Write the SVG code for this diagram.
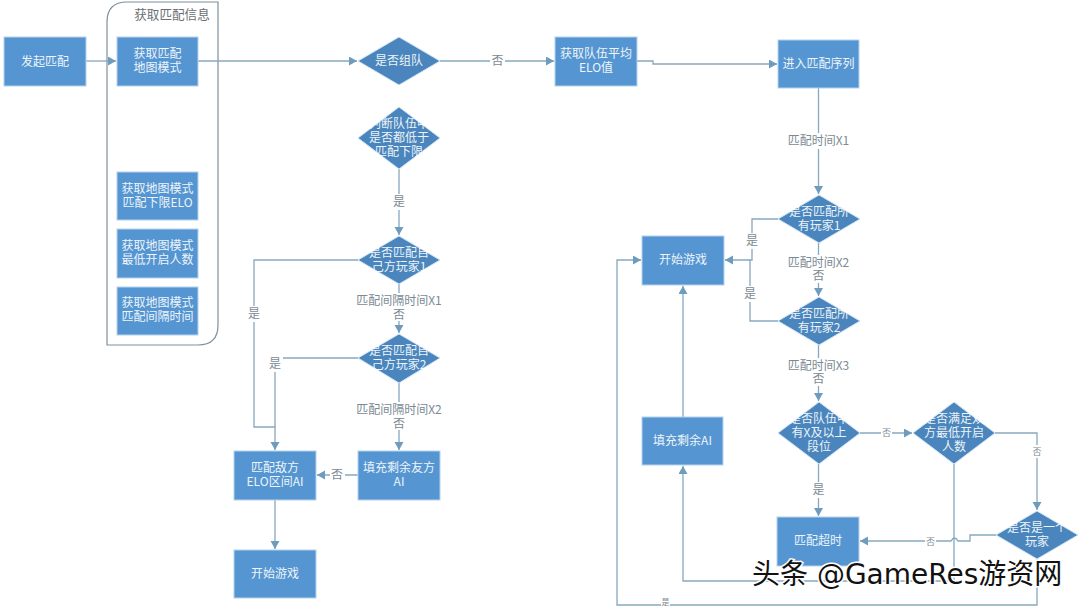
<svg xmlns="http://www.w3.org/2000/svg" width="1080" height="606" viewBox="0 0 1080 606">
<defs>
<marker id="arrow" markerUnits="userSpaceOnUse" markerWidth="10" markerHeight="10" refX="8" refY="4.5" orient="auto"><path d="M0,0 L8,4.500 L0,9 Z" fill="#6f9bbd"/></marker>
</defs>
<style>
text{font-family:"Noto Sans CJK SC","Liberation Sans",sans-serif;font-size:12px;text-anchor:middle}
.box{fill:#5596d2;stroke:#b4d2ec;stroke-width:1}
.dia{fill:#4a86bd;stroke:#cfe3f4;stroke-width:1}
.t{fill:#fff;opacity:.9}
.c{fill:none;stroke:#86a8c0;stroke-width:1.300}
.a{marker-end:url(#arrow)}
.lb{fill:#7b8a94}
.bg{fill:#fff}
.wm{font-family:"DejaVu Sans","Noto Sans CJK SC",sans-serif;font-size:28px;fill:#111;stroke:#fff;stroke-width:3px;paint-order:stroke;text-anchor:start}
</style>
<rect width="1080" height="606" fill="#fff"/>
<g id="group-info">
<path d="M127,2 H218 V325 Q218,345 198,345 H107 V22 Q107,2 127,2 Z" fill="#fff" stroke="#7d8f9c" stroke-width="1.200"/>
<text x="172" y="19" fill="#6b6f73" style="font-size:12.600px">获取匹配信息</text>
</g>
<g id="connectors">
<path class="c a" d="M86,61 H116"/>
<path class="c a" d="M198,61 H357"/>
<path class="c a" d="M440,61 H554"/>
<path class="c a" d="M637,61 H653 V64 H777"/>
<path class="c a" d="M818.500,88 V194"/>
<path class="c a" d="M778,219 H752 V260 H725"/>
<path class="c" d="M778,321 H750 V260"/>
<path class="c a" d="M818.500,243 V296"/>
<path class="c a" d="M818.500,345 V401"/>
<path class="c a" d="M818.500,464 V516"/>
<path class="c a" d="M860,433 H912"/>
<path class="c a" d="M995,433 H1037 V510"/>
<path class="c a" d="M996,535 H970 V541 H958 Q954.500,535 951,541 H860"/>
<path class="c a" d="M954,464 V581 H683 V466"/>
<path class="c a" d="M683,417 V286"/>
<path class="c a" d="M1037,559 V605 H617 V260 H641"/>
<path class="c a" d="M399,169 V235"/>
<path class="c a" d="M399,284 V333"/>
<path class="c a" d="M399,383 V450"/>
<path class="c a" d="M358,260 H254 V427 H275 V450"/>
<path class="c" d="M358,358 H275 V427"/>
<path class="c a" d="M358,475 H317"/>
<path class="c a" d="M275,500 V549"/>
</g>
<g id="labels">
<rect class="bg" x="490" y="53" width="15" height="16"/><text class="lb" x="497.500" y="65">否</text>
<rect class="bg" x="786" y="133" width="65" height="16"/><text class="lb" x="818.500" y="145">匹配时间X1</text>
<rect class="bg" x="745" y="233" width="15" height="16"/><text class="lb" x="752" y="245">是</text>
<rect class="bg" x="743" y="286" width="15" height="16"/><text class="lb" x="750" y="298">是</text>
<rect class="bg" x="786" y="255" width="65" height="28"/><text class="lb" x="818.500" y="267">匹配时间X2<tspan x="818.500" dy="13">否</tspan></text>
<rect class="bg" x="786" y="358" width="65" height="28"/><text class="lb" x="818.500" y="370">匹配时间X3<tspan x="818.500" dy="13">否</tspan></text>
<rect class="bg" x="811" y="482" width="15" height="16"/><text class="lb" x="818.500" y="494">是</text>
<rect class="bg" x="881" y="426" width="11" height="13"/><text class="lb" x="886.500" y="436" style="font-size:9px">否</text>
<rect class="bg" x="1032" y="445" width="11" height="13"/><text class="lb" x="1037" y="455" style="font-size:9px">否</text>
<rect class="bg" x="925" y="535" width="11" height="13"/><text class="lb" x="930.500" y="545" style="font-size:9px">否</text>
<rect class="bg" x="661" y="598" width="9" height="8"/><text class="lb" x="665.500" y="605" style="font-size:8px">是</text>
<rect class="bg" x="392" y="194" width="15" height="16"/><text class="lb" x="399" y="206">是</text>
<rect class="bg" x="247" y="306" width="15" height="16"/><text class="lb" x="254" y="318">是</text>
<rect class="bg" x="268" y="356" width="15" height="16"/><text class="lb" x="275" y="368">是</text>
<rect class="bg" x="357" y="293" width="84" height="28"/><text class="lb" x="399" y="305">匹配间隔时间X1<tspan x="399" dy="14">否</tspan></text>
<rect class="bg" x="357" y="402" width="84" height="28"/><text class="lb" x="399" y="414">匹配间隔时间X2<tspan x="399" dy="14">否</tspan></text>
<rect class="bg" x="330" y="467" width="15" height="16"/><text class="lb" x="337" y="479">否</text>
</g>
<g id="n-start"><rect class="box" x="4" y="37" width="82" height="49"/><text class="t" x="45" y="65.500">发起匹配</text></g>
<g id="n-get-mode"><rect class="box" x="117" y="37" width="81" height="49"/><text class="t" x="157.500" y="58">获取匹配<tspan x="157.500" dy="14">地图模式</tspan></text></g>
<g id="n-elo-low"><rect class="box" x="117" y="172" width="81" height="48"/><text class="t" x="157.500" y="193">获取地图模式<tspan x="157.500" dy="14">匹配下限ELO</tspan></text></g>
<g id="n-min-players"><rect class="box" x="117" y="229" width="81" height="49"/><text class="t" x="157.500" y="250">获取地图模式<tspan x="157.500" dy="14">最低开启人数</tspan></text></g>
<g id="n-interval"><rect class="box" x="117" y="287" width="81" height="48"/><text class="t" x="157.500" y="307">获取地图模式<tspan x="157.500" dy="14">匹配间隔时间</tspan></text></g>
<g id="n-team"><polygon class="dia" points="399,37 440,61 399,85 358,61"/><text class="t" x="399" y="65">是否组队</text></g>
<g id="n-below"><polygon class="dia" points="399,107 440,138 399,169 358,138"/><text class="t" x="399" y="128">判断队伍中<tspan x="399" dy="14">是否都低于</tspan><tspan x="399" dy="14">匹配下限</tspan></text></g>
<g id="n-own1"><polygon class="dia" points="399,236 440,260 399,284 358,260"/><text class="t" x="399" y="257">是否匹配自<tspan x="399" dy="14">己方玩家1</tspan></text></g>
<g id="n-own2"><polygon class="dia" points="399,334 440,358 399,383 358,358"/><text class="t" x="399" y="355">是否匹配自<tspan x="399" dy="14">己方玩家2</tspan></text></g>
<g id="n-enemy-ai"><rect class="box" x="234" y="451" width="82" height="49"/><text class="t" x="275" y="472">匹配敌方<tspan x="275" dy="14">ELO区间AI</tspan></text></g>
<g id="n-ally-ai"><rect class="box" x="358" y="451" width="82" height="49"/><text class="t" x="399" y="472">填充剩余友方<tspan x="399" dy="14">AI</tspan></text></g>
<g id="n-play-left"><rect class="box" x="234" y="550" width="82" height="48"/><text class="t" x="275" y="578">开始游戏</text></g>
<g id="n-avg"><rect class="box" x="555" y="37" width="82" height="49"/><text class="t" x="596" y="58">获取队伍平均<tspan x="596" dy="14">ELO值</tspan></text></g>
<g id="n-queue"><rect class="box" x="778" y="40" width="81" height="48"/><text class="t" x="818.500" y="68">进入匹配序列</text></g>
<g id="n-all1"><polygon class="dia" points="819,195 860,219 819,243 778,219"/><text class="t" x="819" y="216">是否匹配所<tspan x="819" dy="14">有玩家1</tspan></text></g>
<g id="n-all2"><polygon class="dia" points="819,297 860,321 819,345 778,321"/><text class="t" x="819" y="318">是否匹配所<tspan x="819" dy="14">有玩家2</tspan></text></g>
<g id="n-play-right"><rect class="box" x="642" y="236" width="82" height="49"/><text class="t" x="683" y="264">开始游戏</text></g>
<g id="n-rank"><polygon class="dia" points="819,402 860,433 819,464 778,433"/><text class="t" x="819" y="423">是否队伍中<tspan x="819" dy="14">有X及以上</tspan><tspan x="819" dy="14">段位</tspan></text></g>
<g id="n-minopen"><polygon class="dia" points="954,402 995,433 954,464 913,433"/><text class="t" x="954" y="423">是否满足双<tspan x="954" dy="14">方最低开启</tspan><tspan x="954" dy="14">人数</tspan></text></g>
<g id="n-fill-ai"><rect class="box" x="642" y="417" width="81" height="48"/><text class="t" x="682.500" y="445">填充剩余AI</text></g>
<g id="n-timeout"><rect class="box" x="777" y="517" width="82" height="49"/><text class="t" x="818" y="545">匹配超时</text></g>
<g id="n-single"><polygon class="dia" points="1037,511 1078,535 1037,559 996,535"/><text class="t" x="1037" y="532">是否是一个<tspan x="1037" dy="14">玩家</tspan></text></g>
<text class="wm" x="752" y="584">头条 @GameRes游资网</text>
</svg>
